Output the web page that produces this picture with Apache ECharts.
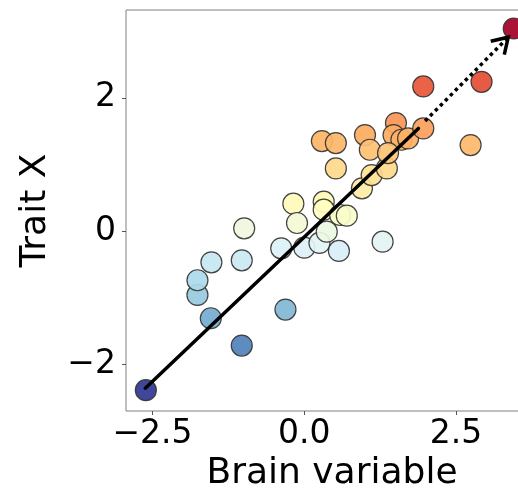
<!DOCTYPE html>
<html>
<head>
<meta charset="utf-8">
<script src="https://cdn.jsdelivr.net/npm/echarts@6/dist/echarts.min.js"></script>
<style>
html,body{margin:0;padding:0;background:#fff;}
#chart{width:518px;height:492px;}
</style>
</head>
<body>
<div id="chart"></div>
<script>
// Scatter values (Brain variable, Trait X)
const brainX = [-2.61,-1.03,-1.54,-0.31,-1.76,-1.76,-1.53,-1.03,-0.99,-0.38,0.00,-0.18,-0.12,0.25,0.57,0.37,1.29,0.32,0.32,0.59,0.70,0.95,1.11,1.36,0.52,0.29,0.52,1.00,1.08,1.51,1.47,1.60,1.71,1.96,1.38,1.96,2.92,2.74,3.45];
const traitY = [-2.39,-1.72,-1.31,-1.18,-0.96,-0.74,-0.47,-0.44,0.04,-0.26,-0.25,0.41,0.12,-0.18,-0.30,-0.01,-0.16,0.44,0.32,0.24,0.23,0.64,0.84,0.94,0.94,1.35,1.32,1.44,1.22,1.62,1.44,1.37,1.39,1.54,1.17,2.17,2.24,1.29,3.04];
// Solid trend segment
const lineX = [-2.62, 1.88];
const lineY = [-2.36, 1.54];
// Dotted arrow (start -> tip)
const arrowX = [1.99, 3.36];
const arrowY = [1.65, 2.91];
// Tick labels
const xTicks = [-2.5, 0, 2.5];
const yTicks = [-2, 0, 2];

const colors = ['#313695','#4575b4','#74add1','#abd9e9','#e0f3f8','#ffffbf','#fee090','#fdae61','#f46d43','#d73027','#a50026'];
const font = 'DejaVu Sans';
const fmt = (v, d) => { const s = Math.abs(v).toFixed(d); return v < 0 ? '\u2212' + s : s; };

const scatterData = brainX.map((x, i) => [x, traitY[i]]);
const lineData = lineX.map((x, i) => [x, lineY[i]]);

const chart = echarts.init(document.getElementById('chart'), null, {renderer: 'canvas'});
chart.setOption({
  animation: false,
  backgroundColor: '#fff',
  grid: {left: 126, top: 10, width: 412, height: 401, show: true, borderColor: '#808080', borderWidth: 1,
         containLabel: false, outerBoundsMode: 'none'},
  xAxis: {
    type: 'value', min: -2.937, max: 3.85,
    name: 'Brain variable', nameLocation: 'middle', nameGap: 44,
    nameTextStyle: {fontFamily: font, fontSize: 36, color: '#000'},
    axisLine: {show: false, onZero: false},
    splitLine: {show: false},
    axisTick: {show: true, length: 4, customValues: xTicks, lineStyle: {color: '#555', width: 1}},
    axisLabel: {customValues: xTicks, margin: 7, fontFamily: font, fontSize: 33, color: '#000', formatter: v => fmt(v, 1)}
  },
  yAxis: {
    type: 'value', min: -2.703, max: 3.318,
    name: 'Trait X', nameLocation: 'middle', nameGap: 72,
    nameTextStyle: {fontFamily: font, fontSize: 36, color: '#000'},
    axisLine: {show: false, onZero: false},
    splitLine: {show: false},
    axisTick: {show: true, length: 4, customValues: yTicks, lineStyle: {color: '#555', width: 1}},
    axisLabel: {customValues: yTicks, margin: 10, fontFamily: font, fontSize: 33, color: '#000', formatter: v => fmt(v, 0)}
  },
  visualMap: {
    show: false, type: 'continuous', seriesIndex: 0, dimension: 1,
    min: Math.min(...traitY), max: Math.max(...traitY),
    inRange: {color: colors}
  },
  series: [
    {
      type: 'scatter', data: scatterData, symbolSize: 21, z: 2,
      itemStyle: {borderColor: '#333', borderWidth: 1.2, opacity: 0.92},
      clip: false
    },
    {
      type: 'line', data: lineData, symbol: 'none', z: 5,
      lineStyle: {color: '#000', width: 3.5, cap: 'round'}
    },
    {
      type: 'custom', z: 6, clip: false,
      data: [[arrowX[0], arrowY[0], arrowX[1], arrowY[1]]],
      renderItem: function (params, api) {
        const p1 = api.coord([api.value(0), api.value(1)]);
        const p2 = api.coord([api.value(2), api.value(3)]);
        const ang = Math.atan2(p1[1] - p2[1], p1[0] - p2[0]);
        const L = 18, h = 32 * Math.PI / 180;
        const a1 = [p2[0] + L * Math.cos(ang + h), p2[1] + L * Math.sin(ang + h)];
        const a2 = [p2[0] + L * Math.cos(ang - h), p2[1] + L * Math.sin(ang - h)];
        return {
          type: 'group',
          children: [
            {type: 'line', shape: {x1: p1[0], y1: p1[1], x2: p2[0], y2: p2[1]},
             style: {stroke: '#000', lineWidth: 3.5, lineDash: [3.5, 3.6]}},
            {type: 'polyline', shape: {points: [a1, p2, a2]},
             style: {stroke: '#000', lineWidth: 3.5, fill: null, lineJoin: 'miter', lineCap: 'butt'}}
          ]
        };
      }
    }
  ]
});
</script>
</body>
</html>
